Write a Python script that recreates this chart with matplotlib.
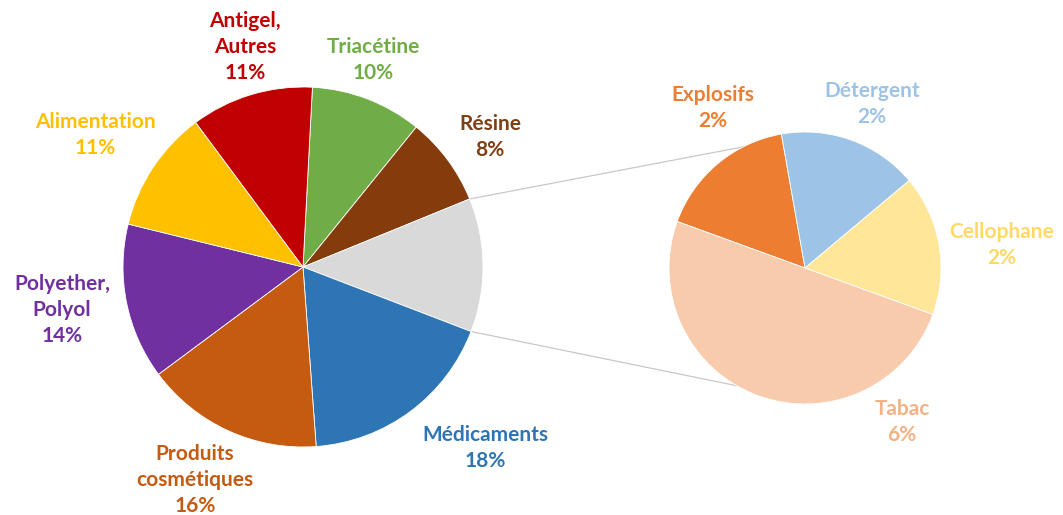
import matplotlib.pyplot as plt
import numpy as np

# main pie (percent), clockwise from the top
main_names = ["Triacétine", "Résine", "Autres", "Médicaments", "Produits\ncosmétiques",
              "Polyether,\nPolyol", "Alimentation", "Antigel,\nAutres"]
main_values = [10, 8, 12, 18, 16, 14, 11, 11]
main_colors = ["#70AD47", "#843C0C", "#D9D9D9", "#2E75B6", "#C55A11",
               "#7030A0", "#FFC000", "#C00000"]
main_text = ["#70AD47", "#7F3F14", None, "#2E75B6", "#C55A11",
             "#7030A0", "#FFC000", "#C00000"]

# split of the grey slice
sub_names = ["Explosifs", "Détergent", "Cellophane", "Tabac"]
sub_values = [2, 2, 2, 6]
sub_colors = ["#ED7D31", "#9DC3E6", "#FFE699", "#F8CBAD"]
sub_text = ["#ED7D31", "#9DC3E6", "#FFD966", "#F4B183"]

W, H = 1063, 515
fig = plt.figure(figsize=(W / 100, H / 100), dpi=100)
ax = fig.add_axes([0, 0, 1, 1])

c1, r1, a1 = (303, H - 267), 180, 87
c2, r2, a2 = (805, H - 268), 136, 160

w1, _ = ax.pie(main_values, colors=main_colors, startangle=a1, counterclock=False,
               center=c1, radius=r1, wedgeprops=dict(edgecolor="white", linewidth=0.6),
               frame=True)
w2, _ = ax.pie(sub_values, colors=sub_colors, startangle=a2, counterclock=False,
               center=c2, radius=r2, wedgeprops=dict(edgecolor="white", linewidth=0.6),
               frame=True)
ax.set_xlim(0, W)
ax.set_ylim(0, H)
ax.axis("off")

# connector lines from the grey slice to the second pie
grey = w1[2]
for ang1, ang2 in [(grey.theta2, 117), (grey.theta1, 240)]:
    p1 = (c1[0] + r1 * np.cos(np.radians(ang1)), c1[1] + r1 * np.sin(np.radians(ang1)))
    p2 = (c2[0] + r2 * np.cos(np.radians(ang2)), c2[1] + r2 * np.sin(np.radians(ang2)))
    ax.plot([p1[0], p2[0]], [p1[1], p2[1]], color="#C8C8C8", lw=0.9, zorder=0)

font = dict(family=["Lato", "DejaVu Sans"], fontsize=15, fontweight="bold",
            ha="center", va="center", linespacing=1.4)

main_pos = [(373, 60), (490, 137), None, (485, 448), (195, 480),
            (62, 310), (95, 135), (245, 47)]
for name, v, col, pos in zip(main_names, main_values, main_text, main_pos):
    if pos is None:
        continue
    ax.text(pos[0], H - pos[1], f"{name}\n{v}%", color=col, **font)

sub_pos = [(713, 108), (872, 104), (1002, 245), (902, 422)]
for name, v, col, pos in zip(sub_names, sub_values, sub_text, sub_pos):
    ax.text(pos[0], H - pos[1], f"{name}\n{v}%", color=col, **font)

fig.savefig("out.png", dpi=100)
